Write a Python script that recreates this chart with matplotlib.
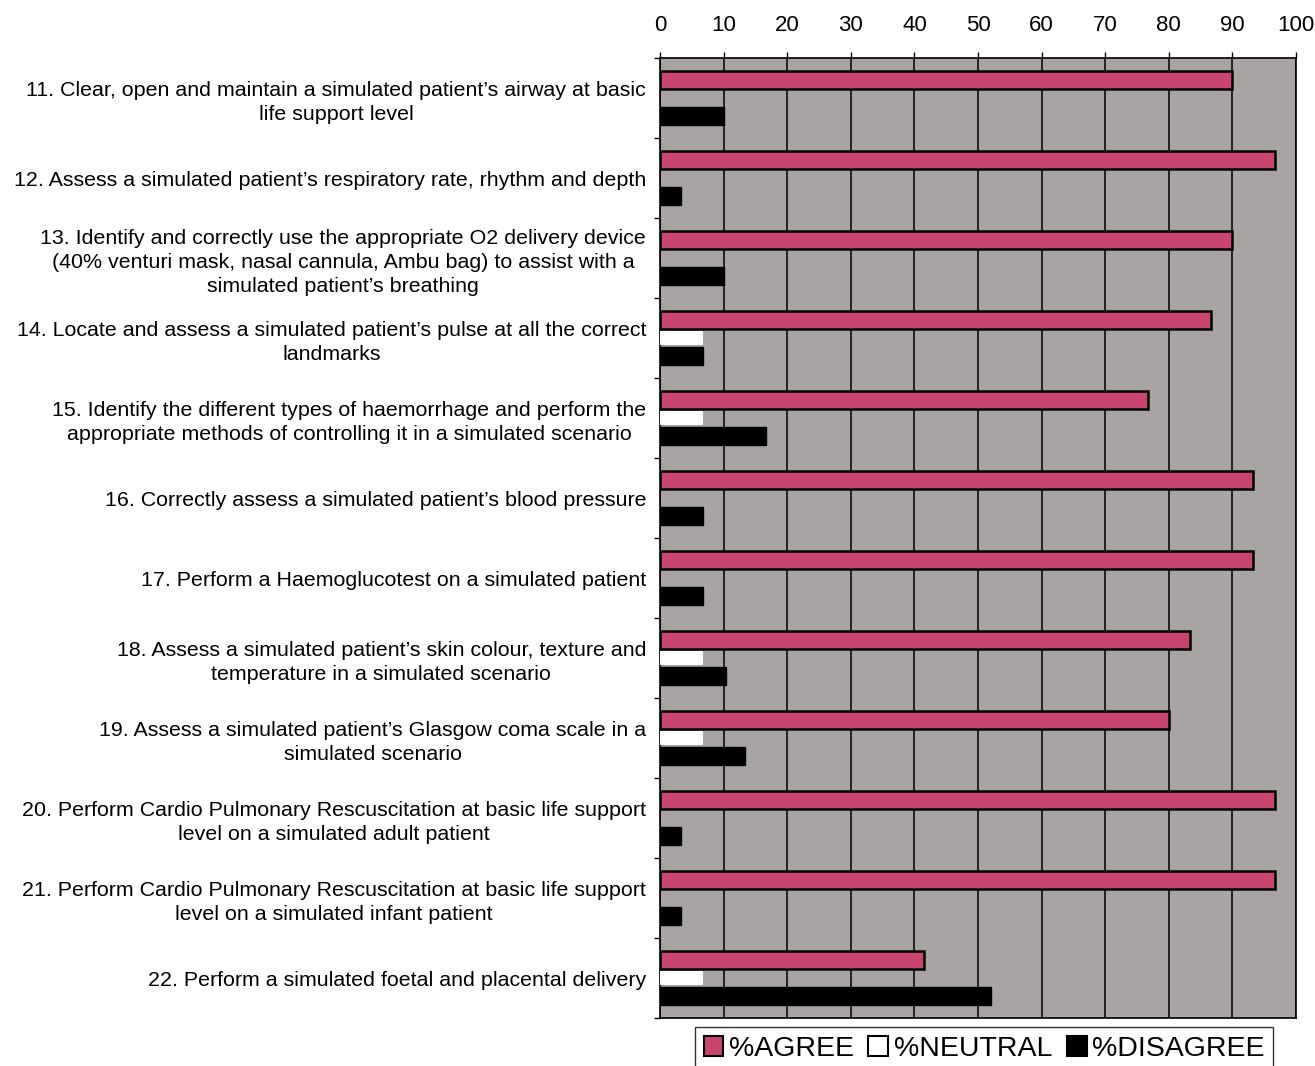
import numpy as np
import matplotlib as mpl
import matplotlib.pyplot as plt
from matplotlib.patches import Patch

mpl.rcParams['font.family'] = ['Liberation Sans', 'DejaVu Sans']

# ===== Data =====
items = [
    "11. Clear, open and maintain a simulated patient\u2019s airway at basic\nlife support level",
    "12. Assess a simulated patient\u2019s respiratory rate, rhythm and depth",
    "13. Identify and correctly use the appropriate O2 delivery device\n(40% venturi mask, nasal cannula, Ambu bag) to assist with a\nsimulated patient\u2019s breathing",
    "14. Locate and assess a simulated patient\u2019s pulse at all the correct\nlandmarks",
    "15. Identify the different types of haemorrhage and perform the\nappropriate methods of controlling it in a simulated scenario",
    "16. Correctly assess a simulated patient\u2019s blood pressure",
    "17. Perform a Haemoglucotest on a simulated patient",
    "18. Assess a simulated patient\u2019s skin colour, texture and\ntemperature in a simulated scenario",
    "19. Assess a simulated patient\u2019s Glasgow coma scale in a\nsimulated scenario",
    "20. Perform Cardio Pulmonary Rescuscitation at basic life support\nlevel on a simulated adult patient",
    "21. Perform Cardio Pulmonary Rescuscitation at basic life support\nlevel on a simulated infant patient",
    "22. Perform a simulated foetal and placental delivery",
]
agree    = [90.0, 96.7, 90.0, 86.7, 76.7, 93.3, 93.3, 83.3, 80.0, 96.7, 96.7, 41.5]
neutral  = [0.0, 0.0, 0.0, 6.7, 6.7, 0.0, 0.0, 6.7, 6.7, 0.0, 0.0, 6.7]
disagree = [10.0, 3.3, 10.0, 6.7, 16.7, 6.7, 6.7, 10.3, 13.3, 3.3, 3.3, 52.0]
xticks = [0, 10, 20, 30, 40, 50, 60, 70, 80, 90, 100]

# ===== Colours =====
c_agree = '#C8456F'
c_bg = '#A9A4A4'

W, H = 1315, 1066
fig = plt.figure(figsize=(W / 100, H / 100), dpi=100)
ax = fig.add_axes([660 / W, 1 - 1018 / H, (1296 - 660) / W, (1018 - 58) / H])
ax.set_facecolor(c_bg)

y = np.arange(len(items))
h = 0.22
off = 0.228
ax.barh(y - off, agree, height=h, color=c_agree, edgecolor='black', linewidth=1.8, zorder=3)
ax.barh(y, neutral, height=h * 0.85, color='white', edgecolor='none', zorder=3)
ax.barh(y + off, disagree, height=h, color='black', edgecolor='black', linewidth=1, zorder=3)

ax.set_xlim(0, 100)
ax.set_ylim(len(items) - 0.5, -0.5)

# x axis on top
ax.xaxis.tick_top()
ax.set_xticks(xticks)
ax.tick_params(axis='x', length=4, width=1, pad=12, labelsize=16, direction='out')
ax.grid(axis='x', color='black', linewidth=1.1, zorder=1)
ax.set_axisbelow(True)

# y axis labels at group centres, small ticks at group boundaries
ax.set_yticks(y)
ax.set_yticklabels(items)
ax.set_yticks(np.arange(len(items) + 1) - 0.5, minor=True)
ax.tick_params(axis='y', which='major', length=0, pad=10, labelsize=15.4)
ax.tick_params(axis='y', which='minor', length=4, width=1)
for t in ax.get_yticklabels():
    t.set_multialignment('center')
    t.set_linespacing(1.33)

for s in ax.spines.values():
    s.set_color('black')
    s.set_linewidth(1.2)

# ===== Legend =====
handles = [
    Patch(facecolor=c_agree, edgecolor='black', linewidth=1.5, label='%AGREE'),
    Patch(facecolor='white', edgecolor='black', linewidth=1.5, label='%NEUTRAL'),
    Patch(facecolor='black', edgecolor='black', linewidth=1.5, label='%DISAGREE'),
]
leg = fig.legend(handles=handles, loc='upper left', bbox_to_anchor=(695 / W, 1 - 1027 / H),
                 ncol=3, frameon=True, fancybox=False, edgecolor='black',
                 handlelength=0.7, handleheight=0.7, handletextpad=0.2, columnspacing=0.5,
                 borderpad=0.3, borderaxespad=0, prop={'size': 20.5})
leg.get_frame().set_linewidth(1.0)

plt.savefig('out.png', dpi=100)
